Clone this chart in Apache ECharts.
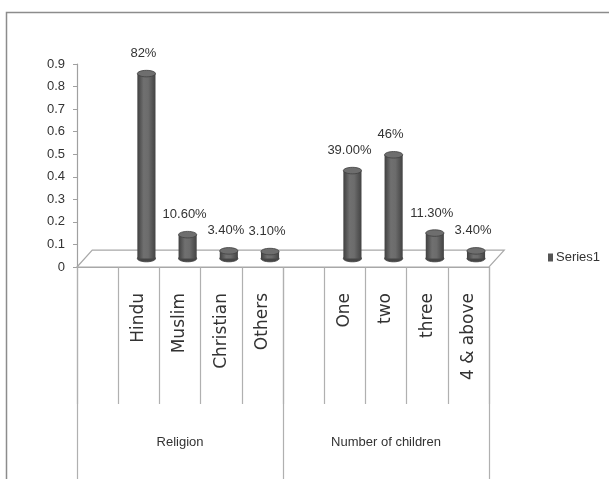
<!DOCTYPE html>
<html>
<head>
<meta charset="utf-8">
<script src="https://cdn.jsdelivr.net/npm/echarts@6/dist/echarts.min.js"></script>
<style>
  html, body { margin: 0; padding: 0; background: #fff; }
  #chart { width: 609px; height: 479px; }
</style>
</head>
<body>
<div id="chart"></div>
<script>
// Survey breakdown: religion and number of children (share of respondents)
const religionCats = ['Hindu', 'Muslim', 'Christian', 'Others'];
const religionVals = [0.82, 0.106, 0.034, 0.031];
const religionLabels = ['82%', '10.60%', '3.40%', '3.10%'];

const childCats = ['One', 'two', 'three', '4 & above'];
const childVals = [0.39, 0.46, 0.113, 0.034];
const childLabels = ['39.00%', '46%', '11.30%', '3.40%'];

const groupNames = ['Religion', 'Number of children'];
const yTicks = [0, 0.9, 0.1]; // min, max, interval
const seriesName = 'Series1';

// Each group gets a leading empty slot, giving the spacing of the axis
const categories = [''].concat(religionCats, [' '], childCats);
const barData = [];
religionVals.forEach((v, i) => barData.push([1 + i, v, religionLabels[i]]));
childVals.forEach((v, i) => barData.push([6 + i, v, childLabels[i]]));

const SANS = '"Liberation Sans Narrow", "Liberation Sans", Arial, sans-serif';

// Depth of the 3D floor, relative to the width of one category band
function depth(api) {
  const band = api.size([1, 0])[0];
  return { dx: band * 0.37, dy: -band * 0.41 };
}

function renderFloor(params, api) {
  const cs = params.coordSys;
  const d = depth(api);
  const yb = cs.y + cs.height;
  return {
    type: 'polygon',
    shape: {
      points: [
        [cs.x, yb],
        [cs.x + d.dx, yb + d.dy],
        [cs.x + cs.width + d.dx, yb + d.dy],
        [cs.x + cs.width, yb]
      ]
    },
    style: { fill: '#ffffff', stroke: '#a8a8a8', lineWidth: 1.2 },
    z2: 0
  };
}

function renderCylinder(params, api) {
  const d = depth(api);
  const band = api.size([1, 0])[0];
  const w = band * 0.44;
  const base = api.coord([api.value(0), 0]);
  const top = api.coord([api.value(0), api.value(1)]);
  const cx = base[0] + d.dx / 2;
  const yBase = base[1] + d.dy / 2;
  const yTop = top[1] + d.dy / 2;
  const ry = w * 0.18;
  const bodyFill = new echarts.graphic.LinearGradient(0, 0, 1, 0, [
    { offset: 0, color: '#404040' },
    { offset: 0.35, color: '#707070' },
    { offset: 0.6, color: '#6c6c6c' },
    { offset: 1, color: '#434343' }
  ]);
  const label = barData[params.dataIndex][2];
  return {
    type: 'group',
    children: [
      {
        type: 'ellipse',
        shape: { cx: cx, cy: yBase, rx: w / 2, ry: ry },
        style: { fill: '#464646', stroke: '#3a3a3a', lineWidth: 0.8 }
      },
      {
        type: 'rect',
        shape: { x: cx - w / 2, y: yTop, width: w, height: Math.max(0, yBase - yTop) },
        style: { fill: bodyFill }
      },
      {
        type: 'ellipse',
        shape: { cx: cx, cy: yTop, rx: w / 2, ry: ry },
        style: { fill: '#6e6e6e', stroke: '#404040', lineWidth: 0.8 }
      },
      {
        type: 'text',
        style: {
          text: label,
          x: cx - 3,
          y: yTop - 20,
          align: 'center',
          verticalAlign: 'middle',
          fontFamily: SANS,
          fontSize: 13,
          fill: '#333'
        }
      }
    ]
  };
}

const chart = echarts.init(document.getElementById('chart'), null, { renderer: 'canvas' });
chart.setOption({
  backgroundColor: '#fff',
  animation: false,
  graphic: [{
    type: 'rect',
    shape: { x: 6.5, y: 12.5, width: 700, height: 600 },
    style: { fill: 'none', stroke: '#8c8c8c', lineWidth: 1.5 },
    silent: true
  }],
  grid: { left: 77, right: 120, top: 64, bottom: 212, containLabel: false },
  legend: {
    data: [{ name: seriesName, icon: 'rect' }],
    left: 543,
    top: 246,
    itemWidth: 5,
    itemHeight: 8,
    itemGap: 3,
    textStyle: { fontFamily: SANS, fontSize: 13, color: '#333', padding: [0, 0, 0, -2] }
  },
  xAxis: [
    {
      type: 'category',
      data: categories,
      position: 'bottom',
      boundaryGap: true,
      axisLine: { show: true, lineStyle: { color: '#a8a8a8', width: 1.2 } },
      axisTick: { show: true, interval: 0, alignWithLabel: false, length: 137,
                  lineStyle: { color: '#b0b0b0', width: 1.2 } },
      axisLabel: { interval: 0, rotate: 90, margin: 26,
                   fontFamily: '"DejaVu Sans", Verdana, sans-serif', fontSize: 17, color: '#333' },
      splitLine: { show: false }
    },
    {
      type: 'category',
      data: groupNames,
      position: 'bottom',
      offset: 0,
      boundaryGap: true,
      axisLine: { show: false },
      axisTick: { show: true, interval: 0, alignWithLabel: false, length: 215,
                  lineStyle: { color: '#b0b0b0', width: 1.2 } },
      axisLabel: { interval: 0, margin: 169, fontFamily: SANS, fontSize: 13, color: '#333' },
      splitLine: { show: false }
    }
  ],
  yAxis: {
    type: 'value',
    min: yTicks[0],
    max: yTicks[1],
    interval: yTicks[2],
    axisLine: { show: true, lineStyle: { color: '#a0a0a0', width: 1.2 } },
    axisTick: { show: true, length: 4, lineStyle: { color: '#a0a0a0' } },
    axisLabel: { margin: 12, fontFamily: SANS, fontSize: 13, color: '#333',
                 formatter: v => String(Math.round(v * 10) / 10) },
    splitLine: { show: false }
  },
  series: [
    {
      type: 'custom',
      name: 'floor',
      xAxisIndex: 0,
      data: [[0, 0]],
      renderItem: renderFloor,
      silent: true,
      z: 1
    },
    {
      type: 'custom',
      name: seriesName,
      xAxisIndex: 0,
      data: barData.map(d => [d[0], d[1]]),
      renderItem: renderCylinder,
      itemStyle: { color: '#555' },
      encode: { x: 0, y: 1 },
      z: 3
    }
  ]
});
</script>
</body>
</html>
